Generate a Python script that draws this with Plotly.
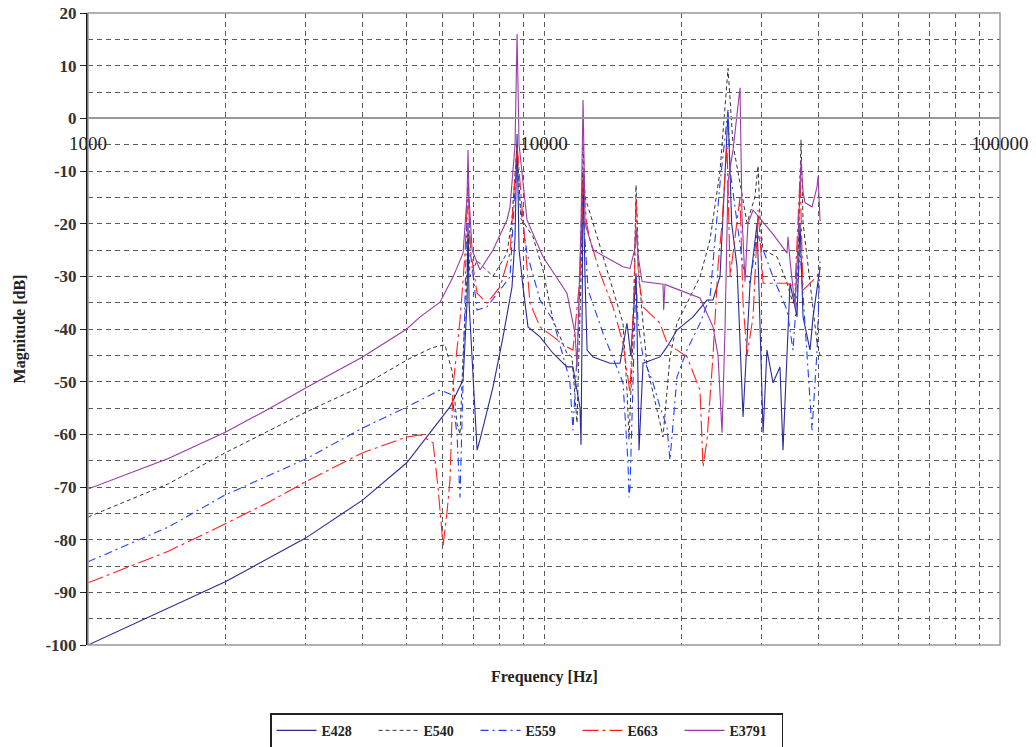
import plotly.graph_objects as go

# ---------------- data (frequency in Hz, magnitude in dB) ----------------
series_names = ["E428", "E540", "E559", "E663", "E3791"]

e428_f = [1000, 1500, 2000, 3000, 4000, 5000, 6000, 6220, 6645, 6780, 6813, 6850, 7133, 7238,
          7731, 8131, 8509, 8640, 8728, 8817, 8994, 9224, 9800, 10465, 11230, 11574, 11995,
          12056, 12118, 12180, 12300, 12429, 12812, 13952, 14678, 15205, 15500, 15916, 16077,
          16158, 16490, 17963, 18609, 19570, 21222, 22780, 23478, 24322, 25325, 25800, 26504,
          27319, 28307, 29326, 30233, 30830, 31782, 32924, 33428, 34635, 35882, 36430, 36987,
          38319, 38906, 40312]
e428_db = [-100, -93, -88, -79.7, -72.5, -65.4, -56.7, -54.8, -49.7, -35, -20, -35, -63, -61,
           -51, -41.5, -32, -22.5, -3, -25, -32, -39.6, -41.5, -44.6, -47.2, -47.2, -55,
           -62, -40, -10, -30, -44, -45.3, -46.5, -46.5, -38.9, -45, -29.4, -50,
           -63, -46.5, -45.3, -43.4, -40.2, -37.7, -34.5, -34.5, -30, 1.2, -20, -28.2,
           -56.7, -31.3, -19.9, -59.7, -44, -50.2, -47.2, -63, -31.3, -37.7, -19.9, -37.7,
           -44, -37.7, -28.2]

e540_f = [1000, 1500, 2000, 2500, 3000, 4000, 5000, 5700, 6065, 6284, 6445, 6544, 6645, 6780,
          6813, 6885, 7133, 7349, 7731, 8297, 8509, 8728, 8900, 9460, 9950, 10465, 11230, 11516,
          11814, 12056, 12180, 12304, 12812, 14902, 15205, 15361, 15700, 15916, 16158, 16490,
          16827, 17963, 18238, 18893, 19570, 20587, 21985, 23121, 24322, 25325, 25975, 26907,
          27878, 29000, 29475, 29800, 30233, 32431, 34113, 35162, 36000, 36615, 37000, 37744,
          39704, 40312]
e540_db = [-75.7, -69.4, -63.5, -59.3, -55.8, -50.8, -45.9, -43.5, -43, -48, -58, -60, -45, -30,
           -22, -30, -27, -28.2, -30, -25.6, -19, -5, -19, -22.5, -28.8, -38.3, -44.6, -45.3,
           -57.8, -30, -5, -15, -19.9, -38.9, -51.6, -61, -40, -12.7, -30, -38.9,
           -47.2, -57.8, -60.5, -45.3, -38.9, -35.1, -30.1, -23.1, -10, 9.5, -5, -12.3,
           -19.9, -15, -9, -20, -25, -26.3, -31.3, -35.1, -30, -4.1, -20, -26.3,
           -42.7, -45]

e559_f = [1000, 1500, 2000, 2500, 3000, 4000, 5000, 5915, 6284, 6445, 6544, 6645, 6780, 6813,
          6885, 7133, 7499, 8424, 8640, 8728, 8817, 9177, 9800, 10465, 11230, 11400, 11574,
          11900, 12118, 12200, 12492, 13473, 14902, 15283, 15361, 15440, 15916, 16077, 16490,
          17337, 17963, 18609, 18893, 19570, 20587, 21985, 23121, 24322, 25325, 25600, 27319,
          28307, 29326, 31782, 34113, 35162, 36430, 37744, 38710, 39704, 40312]
e559_db = [-84.2, -77.6, -71.5, -67.7, -64.7, -58.8, -54.8, -51.6, -52.5, -60, -72, -50, -15, -10,
           -25, -36.4, -35.8, -30.1, -13, -8, -15, -25.6, -34.5, -38.3, -47.8, -50.2, -59.2,
           -40, -15, -18, -32.6, -40.8, -50.2, -65.4, -72, -70, -30, -38.9, -45.3,
           -50.2, -54.8, -58.6, -64.9, -49.1, -44, -38.9, -33.9, -12.3, 1.6, -10, -28.2,
           -31.3, -21.8, -30.1, -36.4, -44, -25, -44, -59.2, -44, -26.3]

e663_f = [1000, 1500, 2000, 2500, 3000, 4000, 5000, 5350, 5710, 5768, 5855, 5974, 6003, 6127,
          6220, 6316, 6544, 6712, 6813, 6900, 7133, 7499, 8008, 8424, 8728, 8994, 9318, 9800,
          10465, 11230, 11574, 12000, 12180, 12400, 12620, 13270, 14166, 14902, 15440, 15800,
          15916, 16100, 16490, 17963, 18609, 20587, 21985, 22322, 22780, 23478, 24078, 24572,
          25196, 25600, 26907, 27319, 27878, 28738, 29475, 30233, 34113, 35519, 36430, 36987,
          39704, 40312]
e663_db = [-88.2, -82.2, -77, -72.8, -69, -63.5, -60.5, -60.1, -61.6, -64.9, -70, -78.7, -81.4, -74.9,
           -68.7, -51, -38.3, -25.6, -13, -25, -33.2, -35.1, -32, -25.6, -5, -19.3, -35.1, -39.6,
           -41.5, -43.4, -44, -30, -11.7, -20, -23.1, -29.4, -35.8, -42.7, -52.1, -30,
           -15, -30, -35.8, -38.9, -42.7, -45.3, -51.6, -66.2, -61, -45, -28, -20,
           -5, -30, -15, -35, -45, -37.7, -17.4, -31.3, -31.3, -32, -11, -32.6,
           -30, -28.2]

e3791_f = [1000, 1500, 2000, 2500, 3000, 4000, 5000, 5350, 5915, 6320, 6645, 6780, 6813, 6850,
           6955, 7238, 7731, 8297, 8424, 8640, 8728, 8817, 9177, 9950, 11230, 11695, 11814,
           12056, 12180, 12304, 12812, 14902, 15440, 15800, 15916, 16077, 16406, 17963, 18238,
           18300, 18424, 19000, 21985, 23478, 24078, 24572, 24943, 25325, 25975, 26907, 27181,
           27597, 28000, 28738, 31782, 34113, 34286, 34635, 35519, 36000, 36615, 37000, 37363,
           38710, 39700, 39905, 40108, 40312]
e3791_db = [-70.4, -64.6, -59.6, -55.1, -51.2, -45.3, -40, -37.7, -34.9, -30.1, -25.6, -15, -6, -15,
            -25, -28.8, -25, -19.3, -16.8, -5, 16, -5, -19.3, -26.3, -33.2, -40.8, -47.2,
            -20, 3.5, -20, -25, -28.2, -28.5, -25, -21, -26, -31, -31.5, -31.5,
            -36.4, -31.5, -32, -34.1, -39.6, -45, -59.7, -40, -12, -6, 5.8, -18.7,
            -31, -20, -17.4, -22, -25.6, -22.5, -27, -35.8, -25, -7.9, -14, -16,
            -16.8, -13, -11, -15, -19.5]

x_tick_vals = [1000, 10000, 100000]
x_tick_text = ["1000", "10000", "100000"]
x_minor_vals = [2000, 3000, 4000, 5000, 6000, 7000, 8000, 9000,
                20000, 30000, 40000, 50000, 60000, 70000, 80000, 90000]
y_tick_vals = [20, 10, 0, -10, -20, -30, -40, -50, -60, -70, -80, -90, -100]
y_tick_text = ["20", "10", "0", "-10", "-20", "-30", "-40", "-50", "-60", "-70", "-80", "-90", "-100"]

# ---------------- styling ----------------
serif = "Liberation Serif, Times New Roman, serif"
styles = [
    dict(color="#2b2b96", width=1.1, dash="solid"),
    dict(color="#333333", width=1.0, dash="4px,3px"),
    dict(color="#2040ff", width=1.1, dash="8px,4px,2px,4px"),
    dict(color="#ff2020", width=1.1, dash="16px,4px,3px,4px"),
    dict(color="#9a3aa8", width=1.1, dash="solid"),
]
xs = [e428_f, e540_f, e559_f, e663_f, e3791_f]
ys = [e428_db, e540_db, e559_db, e663_db, e3791_db]

fig = go.Figure()
for name, x, y, st in zip(series_names, xs, ys, styles):
    fig.add_trace(go.Scatter(x=x, y=y, mode="lines", name=name, line=st))

grid_col = "#5a5a5a"
grid_dash = "5px,4px"
fig.update_layout(
    width=1036, height=747,
    margin=dict(l=88, r=36, t=13, b=102, autoexpand=False),
    paper_bgcolor="white", plot_bgcolor="white",
    font=dict(family=serif, color="#222"),
    showlegend=True,
    legend=dict(orientation="h", x=0.1996, y=-0.108, xanchor="left", yanchor="top",
                bordercolor="#222", borderwidth=1.5, bgcolor="white",
                font=dict(family=serif, size=14, color="#222", weight="bold"),
                itemwidth=40, entrywidth=47, entrywidthmode="pixels", tracegroupgap=0),
    xaxis=dict(type="log", range=[3, 5], anchor="free", position=0.8333,
               showline=True, linecolor="#999", linewidth=1.5,
               tickvals=x_tick_vals, ticktext=x_tick_text,
               tickfont=dict(family=serif, size=19, color="#222"),
               ticks="", ticklabelstandoff=8,
               showgrid=True, gridcolor=grid_col, griddash=grid_dash, gridwidth=1,
               minor=dict(tickvals=x_minor_vals, showgrid=True, gridcolor=grid_col,
                          griddash=grid_dash, gridwidth=1),
               zeroline=False),
    yaxis=dict(range=[-100, 20], tickvals=y_tick_vals, ticktext=y_tick_text,
               tickfont=dict(family=serif, size=17, color="#333", weight="bold"),
               ticks="outside", ticklen=6, tickcolor="#222",
               showline=True, linecolor="#111", linewidth=2,
               showgrid=True, gridcolor=grid_col, griddash=grid_dash, gridwidth=1,
               minor=dict(dtick=5, showgrid=True, gridcolor=grid_col, griddash=grid_dash,
                          gridwidth=1),
               zeroline=False,
               title=dict(text="Magnitude [dB]", standoff=16,
                          font=dict(family=serif, size=16, color="#222", weight="bold"))),
)

# plot-area frame (gray)
fig.add_shape(type="rect", xref="paper", yref="paper", x0=0, x1=1, y0=0, y1=1,
              line=dict(color="#999", width=1.5), layer="above")

fig.add_annotation(text="Frequency [Hz]", xref="paper", yref="paper", x=0.5, y=-0.05,
                   xanchor="center", yanchor="middle", showarrow=False,
                   font=dict(family=serif, size=16, color="#222", weight="bold"))

fig.write_html("out.html")
